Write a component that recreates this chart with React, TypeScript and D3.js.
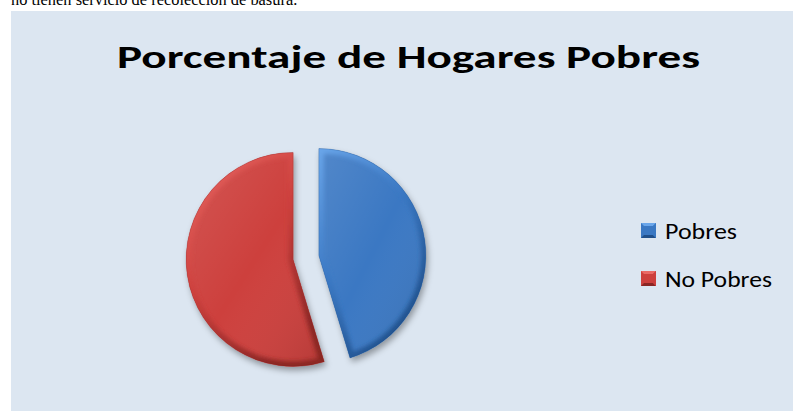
import React from "react";
import * as d3 from "d3";

const categories = ["Pobres", "No Pobres"];
const values = [45.3, 54.7];
const title = "Porcentaje de Hogares Pobres";
const topText = "no tienen servicio de recolección de basura.";

const baseColors = ["#3a78c3", "#cd403d"];
const lightColors = ["#6aa6ea", "#ea6a66"];
const darkColors = ["#1f4f8a", "#8a2624"];

export default function App() {
  const W = 793, H = 411;
  const cx = 306, cy = 257.5, r = 107, explode = 13;
  const pie = d3.pie<number>().sort(null).startAngle(0).endAngle(2 * Math.PI);
  const arcs = pie(values);
  const arc = d3.arc<d3.PieArcDatum<number>>().innerRadius(0).outerRadius(r);

  const legendX = 641, legendY = [223, 271], box = 15;

  return (
    <div style={{ position: "absolute", left: 0, top: 0 }}>
      <svg width={W} height={H} style={{ display: "block" }}>
        <defs>
          <filter id="shadow" x="-20%" y="-20%" width="140%" height="140%">
            <feDropShadow dx="2" dy="4" stdDeviation="3" floodColor="#000" floodOpacity="0.35" />
          </filter>
          <filter id="blur" x="-20%" y="-20%" width="140%" height="140%">
            <feGaussianBlur stdDeviation="2" />
          </filter>
          <linearGradient id="shade" x1="0" y1="0" x2="1" y2="1">
            <stop offset="0" stopColor="#fff" stopOpacity="0.12" />
            <stop offset="0.5" stopColor="#fff" stopOpacity="0" />
            <stop offset="1" stopColor="#000" stopOpacity="0.12" />
          </linearGradient>
          {arcs.map((a, i) => (
            <linearGradient key={"bg" + i} id={"bevel" + i} x1="0" y1="0" x2="0.6" y2="1">
              <stop offset="0" stopColor={lightColors[i]} />
              <stop offset="0.5" stopColor={baseColors[i]} />
              <stop offset="1" stopColor={darkColors[i]} />
            </linearGradient>
          ))}
          {arcs.map((a, i) => (
            <clipPath key={"cp" + i} id={"clip" + i}>
              <path d={arc(a) || ""} />
            </clipPath>
          ))}
        </defs>

        <text x={11} y={5} fontFamily="'Liberation Serif', 'Times New Roman', serif" fontSize={16.4} fill="#000">
          {topText}
        </text>

        <rect x={11} y={11} width={782} height={400} fill="#dce6f1" />

        <text
          x={408.5}
          y={68}
          textAnchor="middle"
          fontFamily="Carlito, Calibri, Lato, sans-serif"
          fontWeight="bold"
          fontSize={33}
          textLength={583}
          lengthAdjust="spacingAndGlyphs"
          fill="#000"
        >
          {title}
        </text>

        {arcs.map((a, i) => {
          const mid = (a.startAngle + a.endAngle) / 2;
          const dx = Math.sin(mid) * explode;
          const dy = -Math.cos(mid) * explode;
          const d = arc(a) || "";
          return (
            <g key={i} transform={`translate(${cx + dx},${cy + dy})`}>
              <path d={d} fill={baseColors[i]} filter="url(#shadow)" />
              <g clipPath={`url(#clip${i})`}>
                <path d={d} fill="url(#shade)" />
                <path d={d} fill="none" stroke={`url(#bevel${i})`} strokeWidth={10} filter="url(#blur)" />
              </g>
              <path d={d} fill="none" stroke={darkColors[i]} strokeOpacity={0.35} strokeWidth={0.8} />
            </g>
          );
        })}

        {categories.map((c, i) => {
          const x = legendX, y = legendY[i];
          const m = box / 2;
          return (
            <g key={c}>
              <rect x={x} y={y} width={box} height={box} fill={baseColors[i]} />
              <polygon points={`${x},${y} ${x + box},${y} ${x + m},${y + m}`} fill={lightColors[i]} />
              <polygon points={`${x},${y + box} ${x + box},${y + box} ${x + m},${y + m}`} fill={darkColors[i]} />
              <polygon points={`${x + box},${y} ${x + box},${y + box} ${x + m},${y + m}`} fill={baseColors[i]} opacity={0.85} />
              <rect x={x + 3} y={y + 3} width={box - 6} height={box - 6} fill={baseColors[i]} />
              <text
                x={665}
                y={y + 16}
                fontFamily="Carlito, Calibri, Lato, sans-serif"
                fontSize={23}
                fill="#000"
                textLength={i === 0 ? 72 : 107}
                lengthAdjust="spacingAndGlyphs"
              >
                {c}
              </text>
            </g>
          );
        })}
      </svg>
    </div>
  );
}
